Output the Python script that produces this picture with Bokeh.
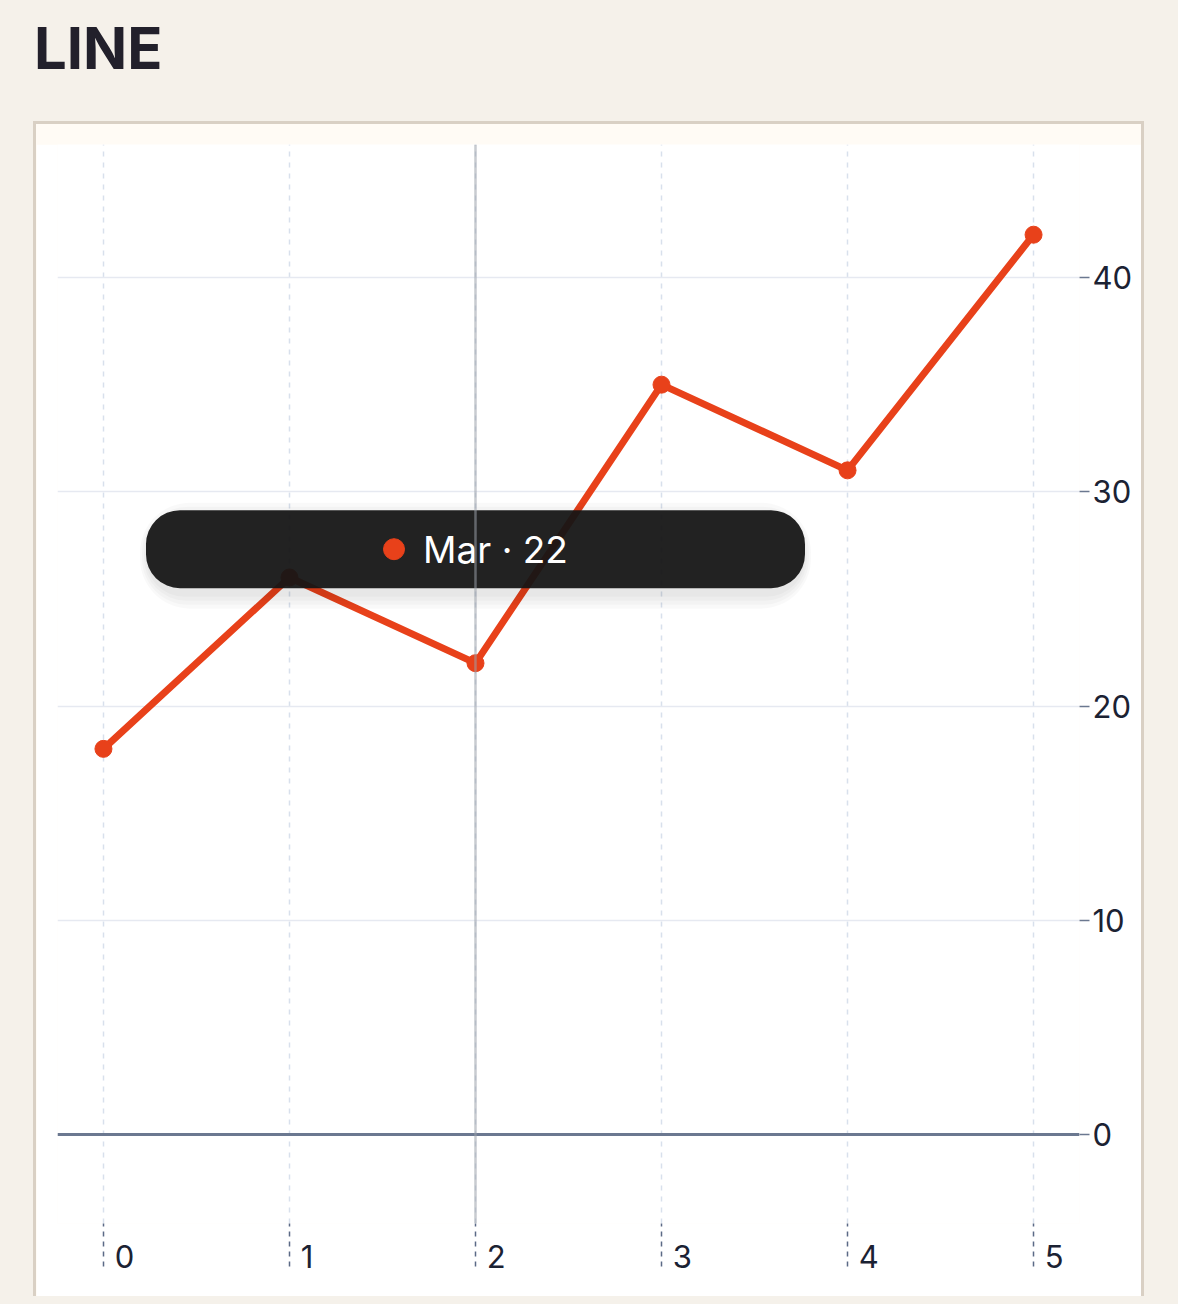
from bokeh.core.properties import value
from bokeh.embed import file_html
from bokeh.layouts import column
from bokeh.models import Div, FixedTicker, GlobalInlineStyleSheet, Range1d, Span
from bokeh.plotting import figure
from bokeh.resources import INLINE

# Data
months = ["Jan", "Feb", "Mar", "Apr", "May", "Jun"]
x_vals = [0, 1, 2, 3, 4, 5]
y_vals = [18, 26, 22, 35, 31, 42]
y_ticks = [0, 10, 20, 30, 40]
hover_idx = 2

RED = "#e8411a"
INK = "#1b2233"
SLATE = "#6b7890"

p = figure(
    width=1105,
    height=1152,
    x_range=Range1d(-0.247, 5.247),
    y_range=Range1d(-4.154, 46.21),
    y_axis_location="right",
    toolbar_location=None,
    output_backend="svg",
    min_border_left=21,
    min_border_right=62,
    min_border_top=0,
    min_border_bottom=73,
    background_fill_color="white",
    border_fill_color="white",
    outline_line_color=None,
)

# Axes
xa = p.xaxis[0]
xa.ticker = FixedTicker(ticks=x_vals)
xa.axis_line_color = None
xa.major_tick_in = 0
xa.major_tick_out = 43
xa.major_tick_line_dash = "5 5"
xa.major_tick_line_color = "#5b6a86"
xa.major_tick_line_width = 1.5
xa.minor_tick_line_color = None
# tiny negative angle -> labels anchored on their left edge
xa.major_label_orientation = -1e-6
xa.major_label_standoff = -10
xa.major_label_overrides = {v: "\u2009\u2009" + str(v) for v in x_vals}
xa.major_label_text_font = "Inter"
xa.major_label_text_font_size = "31px"
xa.major_label_text_color = INK

ya = p.yaxis[0]
ya.ticker = FixedTicker(ticks=y_ticks)
ya.axis_line_color = None
ya.major_tick_in = 0
ya.major_tick_out = 10
ya.major_tick_line_color = SLATE
ya.major_tick_line_width = 1.5
ya.minor_tick_line_color = None
ya.major_label_standoff = 3
ya.major_label_text_font = "Inter"
ya.major_label_text_font_size = "31px"
ya.major_label_text_color = INK

# Grid
p.ygrid.grid_line_color = "#e6e9f1"
p.ygrid.grid_line_width = 1.5
p.xgrid.grid_line_color = "#d8e0ec"
p.xgrid.grid_line_width = 1.5
p.xgrid.grid_line_dash = "5 6"

# Zero line
p.add_layout(Span(location=0, dimension="width", line_color=SLATE, line_width=3))

# Series
p.line(x_vals, y_vals, line_color=RED, line_width=7)
p.scatter(x_vals, y_vals, size=17, color=RED)

# Crosshair at hovered point (drawn over the series)
p.add_layout(Span(location=x_vals[hover_idx], dimension="height",
                  line_color="#9aa0aa", line_alpha=0.55, line_width=2.5))

# Tooltip
hx = x_vals[hover_idx]
tip_y = y_vals[hover_idx] + 5.32
for k in (16, 12, 8, 4):
    p.rect([hx], [tip_y - 0.3], width=655 + k, height=74 + 2 * k,
           width_units="screen", height_units="screen", fill_color="black",
           fill_alpha=0.022, line_color=None, border_radius=34 + k)
p.rect([hx], [tip_y], width=659, height=78, width_units="screen",
       height_units="screen", fill_color="#151515", fill_alpha=0.94,
       line_color=None, border_radius=34)
p.scatter([hx - 0.438], [tip_y], size=21, color=RED)
p.text([hx], [tip_y], text=[f"{months[hover_idx]} · {y_vals[hover_idx]}"],
       x_offset=20, text_align="center", text_baseline="middle",
       text_color="white", text_font=value("Inter"), text_font_size="37px")

title = Div(
    text='<div style="font-family:Inter;font-weight:700;font-size:58px;'
    'line-height:58px;color:#22202b;padding:14px 0 0 29px;">LINE</div>',
    width=1109,
    height=111,
)

card = column(
    p,
    styles={
        "border": "3px solid #d9d0c4",
        "border-bottom": "none",
        "background-color": "#fffbf5",
        "padding-top": "20px",
        "margin-left": "33px",
    },
)

root = column(
    title,
    card,
    spacing=0,
    stylesheets=[GlobalInlineStyleSheet(css="body{background:#f5f1ea;}")],
)

open("out.html", "w").write(file_html(root, INLINE))
